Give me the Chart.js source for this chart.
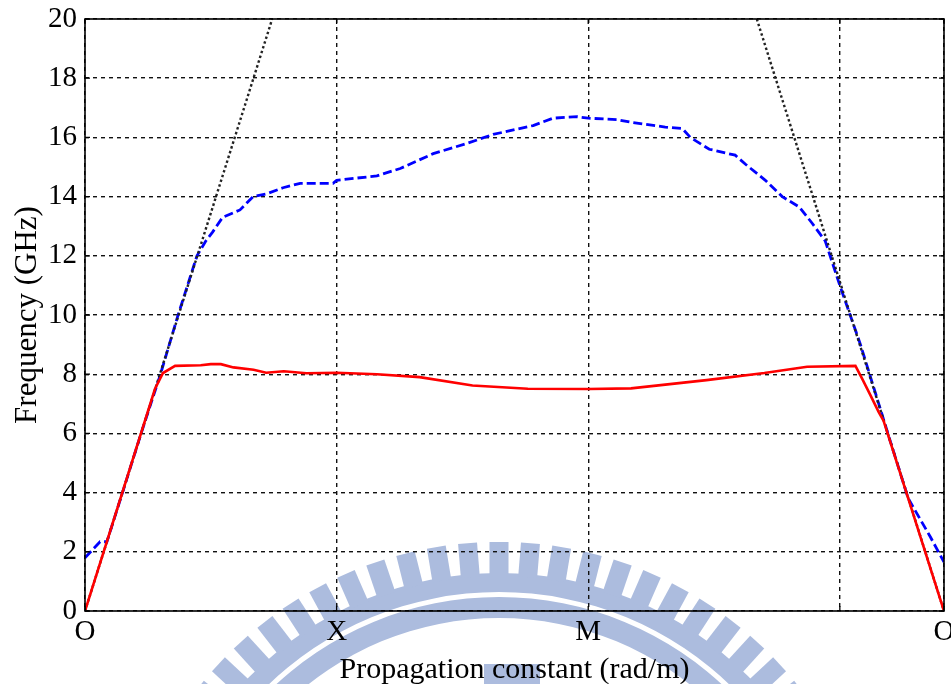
<!DOCTYPE html>
<html>
<head>
<meta charset="utf-8">
<title>Dispersion diagram</title>
<script src="https://cdn.jsdelivr.net/npm/chart.js@4.4.0/dist/chart.umd.min.js"></script>
<style>
  html, body { margin: 0; padding: 0; background: #fff; }
</style>
</head>
<body>
<canvas id="chart" width="951" height="684"></canvas>
<script>
// path O -> X -> M -> O, measured in units of O-X (M -> O is sqrt(2) long)
var kTicks = [0, 1, 2, 3, 3.414];
var kTickNames = ['O', 'X', 'M', '', 'O'];

// light lines
var kLightA = [0, 0.744];
var fLightA = [0, 20];
var kLightB = [2.670, 3.414];
var fLightB = [20, 0];

// first mode (GHz)
var kMode1 = [0, 0.278, 0.31, 0.358, 0.46, 0.50, 0.54, 0.59, 0.67, 0.72, 0.79, 0.88, 1.0, 1.16, 1.33,
              1.54, 1.76, 2.0, 2.17, 2.47, 2.70, 2.87, 3.062, 3.088, 3.121, 3.154, 3.174, 3.414];
var fMode1 = [0, 7.5, 8.04, 8.28, 8.3, 8.34, 8.34, 8.23, 8.15, 8.05, 8.1, 8.03, 8.05, 8.0, 7.9,
              7.62, 7.51, 7.5, 7.52, 7.8, 8.04, 8.25, 8.28, 7.86, 7.30, 6.73, 6.42, 0];

// second mode (GHz)
var kMode2 = [0, 0.06, 0.087, 0.149, 0.223, 0.30, 0.37, 0.445, 0.48, 0.507, 0.547, 0.616, 0.668, 0.724,
              0.787, 0.855, 0.986, 1.0, 1.16, 1.253, 1.384, 1.519, 1.622, 1.781, 1.861, 1.956, 2.0,
              2.115, 2.179, 2.306, 2.374, 2.406, 2.481, 2.584, 2.624, 2.704, 2.771, 2.839, 2.89,
              2.942, 3.0, 3.082, 3.2, 3.272, 3.36, 3.414];
var fMode2 = [1.8, 2.34, 2.34, 4.0, 6.0, 8.0, 10.0, 12.0, 12.5, 12.8, 13.3, 13.55, 14.0, 14.1,
              14.3, 14.45, 14.45, 14.55, 14.7, 14.95, 15.45, 15.8, 16.1, 16.4, 16.65, 16.7, 16.65,
              16.6, 16.5, 16.35, 16.3, 16.0, 15.6, 15.4, 15.1, 14.55, 14.0, 13.65, 13.1,
              12.5, 11.0, 9.0, 5.75, 3.8, 2.5, 1.65];

var serif = "'Liberation Serif', 'Times New Roman', serif";

function pts(ks, fs) {
    return ks.map(function (k, i) { return { x: k, y: fs[i] }; });
}

// faint university seal behind the plot
var seal = {
    id: 'seal',
    beforeDraw: function (chart) {
        var ctx = chart.ctx;
        var cx = 499, cy = 925;
        ctx.save();
        ctx.fillStyle = 'rgb(172,188,222)';
        ctx.beginPath();
        ctx.arc(cx, cy, 352, 0, Math.PI * 2);
        ctx.arc(cx, cy, 333, 0, Math.PI * 2, true);
        ctx.fill();
        ctx.beginPath();
        ctx.arc(cx, cy, 328, 0, Math.PI * 2);
        ctx.arc(cx, cy, 307, 0, Math.PI * 2, true);
        ctx.fill();
        for (var i = -15; i <= 15; i++) {
            ctx.save();
            ctx.translate(cx, cy);
            ctx.rotate(i * 4.71 * Math.PI / 180);
            ctx.fillRect(-9.5, -383, 19, 34);
            ctx.restore();
        }
        ctx.fillRect(484, 664, 56, 20);
        ctx.restore();
    }
};

// plot frame with short inward ticks on all four sides
var frame = {
    id: 'frame',
    afterDraw: function (chart) {
        var ctx = chart.ctx, a = chart.chartArea;
        var xs = chart.scales.x, ys = chart.scales.y;
        ctx.save();
        ctx.strokeStyle = '#000';
        ctx.lineWidth = 1.6;
        ctx.strokeRect(a.left, a.top, a.right - a.left, a.bottom - a.top);
        ctx.lineWidth = 1.3;
        ctx.beginPath();
        ys.ticks.forEach(function (t) {
            var y = ys.getPixelForValue(t.value);
            ctx.moveTo(a.left, y); ctx.lineTo(a.left + 5, y);
            ctx.moveTo(a.right, y); ctx.lineTo(a.right - 5, y);
        });
        xs.ticks.forEach(function (t) {
            var x = xs.getPixelForValue(t.value);
            ctx.moveTo(x, a.bottom); ctx.lineTo(x, a.bottom - 5);
            ctx.moveTo(x, a.top); ctx.lineTo(x, a.top + 5);
        });
        ctx.stroke();
        ctx.restore();
    }
};

var canvas = document.getElementById('chart').getContext('2d');
window.bands = new Chart(canvas, {
    type: 'line',
    data: {
        datasets: [
            {
                data: pts(kMode1, fMode1),
                borderColor: '#ff0000',
                borderWidth: 2.6
            },
            {
                data: pts(kLightA, fLightA),
                borderColor: '#222222',
                borderWidth: 2.4,
                borderDash: [2.5, 2.5]
            },
            {
                data: pts(kLightB, fLightB),
                borderColor: '#222222',
                borderWidth: 2.4,
                borderDash: [2.5, 2.5]
            },
            {
                data: pts(kMode2, fMode2),
                borderColor: '#0000ff',
                borderWidth: 2.8,
                borderDash: [9, 4]
            }
        ]
    },
    options: {
        responsive: false,
        animation: false,
        layout: { padding: { top: 19, right: 7, left: 0, bottom: 0 } },
        elements: {
            point: { radius: 0 },
            line: { tension: 0, fill: false }
        },
        plugins: {
            legend: { display: false },
            tooltip: { enabled: false }
        },
        scales: {
            x: {
                type: 'linear',
                min: 0,
                max: 3.414,
                afterBuildTicks: function (s) {
                    s.ticks = kTicks.map(function (v) { return { value: v }; });
                },
                afterFit: function (s) {
                    s.height = 73;
                    s.paddingLeft = 0;
                    s.paddingRight = 0;
                },
                ticks: {
                    autoSkip: false,
                    maxRotation: 0,
                    padding: 4,
                    color: '#000',
                    font: { family: serif, size: 29 },
                    callback: function (v, i) { return kTickNames[i]; }
                },
                grid: { color: '#111', lineWidth: 1.4, drawTicks: false },
                border: { display: false, dash: [4, 4] },
                title: {
                    display: true,
                    text: 'Propagation constant (rad/m)',
                    color: '#000',
                    font: { family: serif, size: 30 },
                    padding: { top: 0, bottom: -4 }
                }
            },
            y: {
                min: 0,
                max: 20,
                afterFit: function (s) {
                    s.width = 85;
                    s.paddingTop = 0;
                    s.paddingBottom = 0;
                },
                ticks: {
                    stepSize: 2,
                    padding: 8,
                    color: '#000',
                    font: { family: serif, size: 29 }
                },
                grid: { color: '#111', lineWidth: 1.4, drawTicks: false },
                border: { display: false, dash: [4, 4] },
                title: {
                    display: true,
                    text: 'Frequency (GHz)',
                    color: '#000',
                    font: { family: serif, size: 31 },
                    padding: { top: 9, bottom: 0 }
                }
            }
        }
    },
    plugins: [seal, frame]
});
</script>
</body>
</html>
